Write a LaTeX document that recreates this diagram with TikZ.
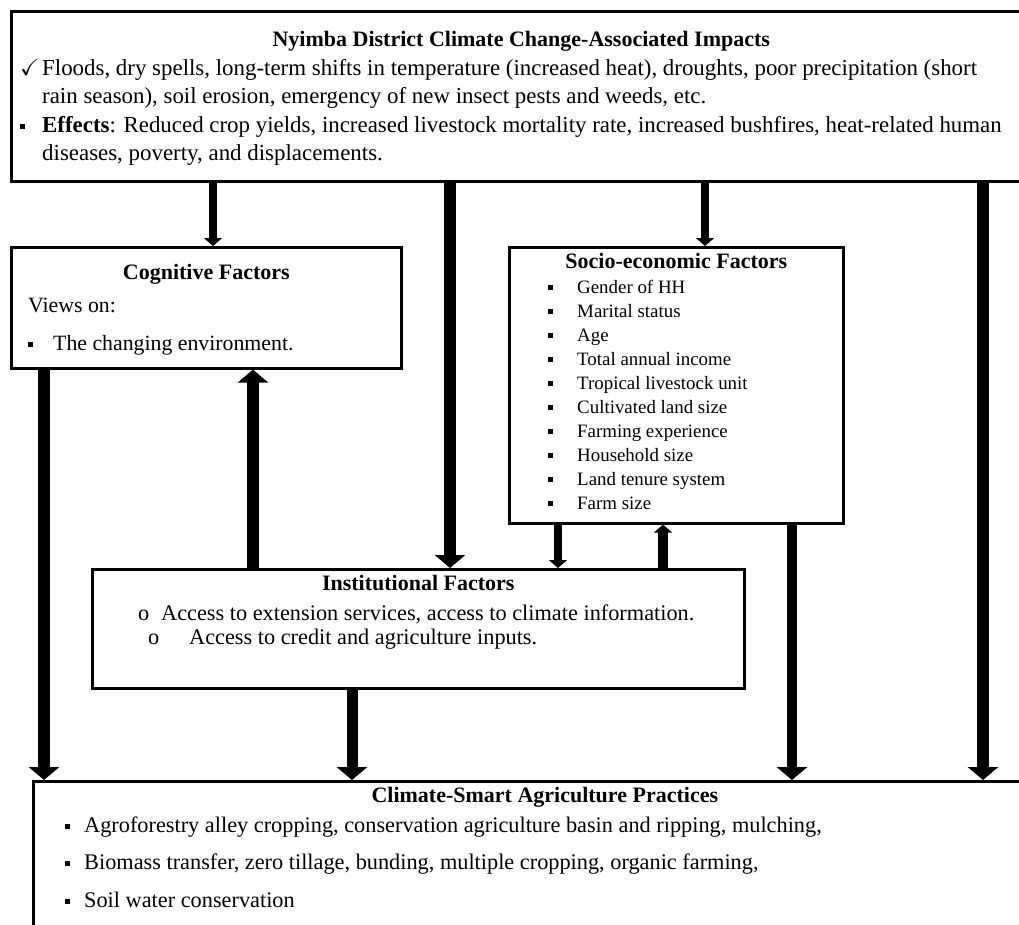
\documentclass[tikz,border=0pt]{standalone}
\usepackage{amssymb}
\usepackage{fontspec}
\setmainfont{Liberation Serif}
\usetikzlibrary{arrows.meta}

\newcommand{\sqbullet}{\rule[0.3ex]{5pt}{5pt}}

\tikzset{
  box/.style={draw, line width=2.6pt, inner sep=0pt, anchor=north west},
  boxtitle/.style={anchor=base, inner sep=0pt, font=\fontsize{22}{26}\selectfont\bfseries},
  boxtext/.style={anchor=base west, align=left, inner sep=0pt, font=\fontsize{22.3}{28.5}\selectfont},
  thinarrow/.style={line width=7.5pt, -{Triangle[length=8pt,width=18pt]}},
  bigarrow/.style={line width=12pt, -{Triangle[length=13pt,width=30pt]}},
}

\begin{document}
\begin{tikzpicture}[x=1pt, y=-1pt]
  \clip (0,0) rectangle (1019,924);
  % boxes
  \node[box, minimum width=1020pt, minimum height=170pt] (impacts) at (10,10) {};
  \node[box, minimum width=390pt, minimum height=121pt] (cogn) at (10,246) {};
  \node[box, minimum width=334pt, minimum height=276pt] (socio) at (508,246) {};
  \node[box, minimum width=652pt, minimum height=119pt] (inst) at (91,568) {};
  \node[box, minimum width=1023pt, minimum height=170pt] (csa) at (32,780) {};

  % texts (multi-line nodes sit on their last baseline)
  \node[boxtitle, yshift=-36pt] (impactstitle) at (impacts.north) {Nyimba District Climate Change-Associated Impacts};
  \node[boxtext, font=\fontsize{22.9}{28.5}\selectfont, xshift=10pt, yshift=-150.5pt] (impactslist) at (impacts.north west)
    {\makebox[22pt][l]{$\checkmark$}Floods, dry spells, long-term shifts in temperature (increased heat), droughts, poor precipitation (short\\
     \hspace*{22pt}rain season), soil erosion, emergency of new insect pests and weeds, etc.\\
     \makebox[22pt][l]{\sqbullet}\textbf{Effects}: Reduced crop yields, increased livestock mortality rate, increased bushfires, heat-related human\\
     \hspace*{22pt}diseases, poverty, and displacements.};

  \node[boxtitle, yshift=-33pt] (cogntitle) at (cogn.north) {Cognitive Factors};
  \node[boxtext, font=\fontsize{21.8}{38}\selectfont, xshift=18pt, yshift=-104pt] (cognlist) at (cogn.north west)
    {Views on:\\ \makebox[25pt][l]{\sqbullet}The changing environment.};

  \node[boxtitle, yshift=-22pt] (sociotitle) at (socio.north) {Socio-economic Factors};
  \node[boxtext, font=\fontsize{18.9}{24}\selectfont, xshift=40pt, yshift=-263pt] (sociolist) at (socio.north west)
    {\makebox[29pt][l]{\sqbullet}Gender of HH\\
     \makebox[29pt][l]{\sqbullet}Marital status\\
     \makebox[29pt][l]{\sqbullet}Age\\
     \makebox[29pt][l]{\sqbullet}Total annual income\\
     \makebox[29pt][l]{\sqbullet}Tropical livestock unit\\
     \makebox[29pt][l]{\sqbullet}Cultivated land size\\
     \makebox[29pt][l]{\sqbullet}Farming experience\\
     \makebox[29pt][l]{\sqbullet}Household size\\
     \makebox[29pt][l]{\sqbullet}Land tenure system\\
     \makebox[29pt][l]{\sqbullet}Farm size};

  \node[boxtitle, yshift=-22pt] (insttitle) at (inst.north) {Institutional Factors};
  \node[boxtext, font=\fontsize{22.3}{24}\selectfont, xshift=47pt, yshift=-76pt] (instlist) at (inst.north west)
    {\makebox[23pt][l]{o}Access to extension services, access to climate information.\\
     \hspace*{10pt}\makebox[41pt][l]{o}Access to credit and agriculture inputs.};

  \node[boxtitle, yshift=-22pt] (csatitle) at (csa.north) {Climate-Smart Agriculture Practices};
  \node[boxtext, font=\fontsize{22.3}{37.5}\selectfont, xshift=33pt, yshift=-127pt] (csalist) at (csa.north west)
    {\makebox[19pt][l]{\sqbullet}Agroforestry alley cropping, conservation agriculture basin and ripping, mulching,\\
     \makebox[19pt][l]{\sqbullet}Biomass transfer, zero tillage, bunding, multiple cropping, organic farming,\\
     \makebox[19pt][l]{\sqbullet}Soil water conservation};

  % arrow columns
  \coordinate (c1) at (213,0);
  \coordinate (c2) at (450,0);
  \coordinate (c3) at (705,0);
  \coordinate (c4) at (983,0);
  \coordinate (c5) at (44,0);
  \coordinate (c6) at (253,0);
  \coordinate (c7) at (558,0);
  \coordinate (c8) at (663,0);
  \coordinate (c9) at (792,0);
  \coordinate (c10) at (352,0);

  % arrows
  \draw[thinarrow] (impacts.south -| c1) -- (cogn.north -| c1);
  \draw[bigarrow] (impacts.south -| c2) -- (inst.north -| c2);
  \draw[thinarrow] (impacts.south -| c3) -- (socio.north -| c3);
  \draw[bigarrow] (impacts.south -| c4) -- (csa.north -| c4);
  \draw[bigarrow] (cogn.south -| c5) -- (csa.north -| c5);
  \draw[bigarrow] (inst.north -| c6) -- (cogn.south -| c6);
  \draw[thinarrow] (socio.south -| c7) -- (inst.north -| c7);
  \draw[thinarrow, line width=10pt] (inst.north -| c8) -- (socio.south -| c8);
  \draw[bigarrow, line width=10pt] (socio.south -| c9) -- (csa.north -| c9);
  \draw[bigarrow, line width=11pt] (inst.south -| c10) -- (csa.north -| c10);
\end{tikzpicture}
\end{document}
